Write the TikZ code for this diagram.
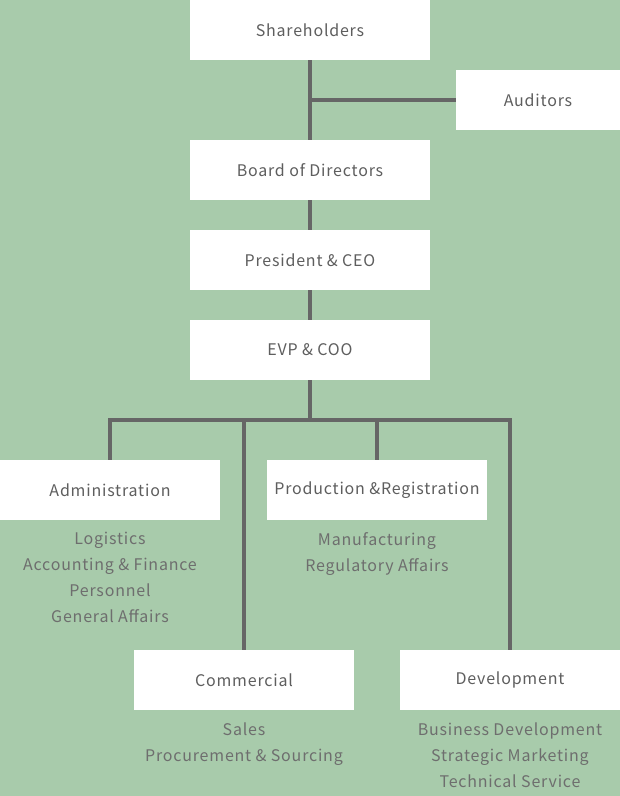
\documentclass[tikz,border=0pt]{standalone}
\usepackage{fontspec}
\setmainfont{Noto Sans CJK JP}[LetterSpace=5]
\usepackage{tikz}
\usetikzlibrary{positioning,calc}
\definecolor{orgbg}{HTML}{A8CBAB}
\definecolor{linegray}{HTML}{666666}
\definecolor{txtgray}{HTML}{5E5E5E}
\definecolor{subgray}{HTML}{6E6E6E}

\begin{document}
\begin{tikzpicture}[
  x=1pt,y=-1pt,
  unit/.style={fill=white,minimum height=60pt,minimum width=240pt,inner sep=0pt,
               font=\fontsize{16}{19}\selectfont,text=txtgray},
  dept/.style={unit,minimum width=220pt},
  aud/.style={unit,minimum width=164pt},
  subs/.style={align=center,font=\fontsize{16}{26}\selectfont,text=subgray,anchor=north},
  link/.style={draw=linegray,line width=4pt,line join=miter},
]
  % background
  \fill[orgbg] (0,0) rectangle (620,796);
  \useasboundingbox (0,0) rectangle (620,796);

  % top of the chart
  \node[unit] (share) at (310,30) {Shareholders};
  \node[aud] (audit) at (538,100) {Auditors};
  \node[unit] (board) at (310,170) {Board of Directors};
  \node[unit] (ceo) at (310,260) {President \& CEO};
  \node[unit] (coo) at (310,350) {EVP \& COO};

  % divisions
  \node[dept] (admin) at (110,490) {Administration};
  \node[dept] (prod) at (377,490) {Production \&Registration};
  \node[dept] (comm) at (244,680) {Commercial};
  \node[dept] (dev) at (510,680) {Development};

  % junctions
  \coordinate (audj) at (310,100);
  \coordinate (bus) at (310,420);

  \draw[link] (share.south) -- (board.north);
  \draw[link] (audj) -- (audit.west);
  \draw[link] (board.south) -- (ceo.north);
  \draw[link] (ceo.south) -- (coo.north);
  \draw[link] (coo.south) -- (bus);
  \draw[link] (admin.north) |- (dev.north |- bus) -- (dev.north);
  \draw[link] (comm.north |- bus) -- (comm.north);
  \draw[link] (prod.north |- bus) -- (prod.north);

  % sections under each division
  \node[subs] (adminsub) at (110,529) {Logistics\\Accounting \& Finance\\Personnel\\General Affairs};
  \node[subs] (prodsub) at (377,529) {Manufacturing\\Regulatory Affairs};
  \node[subs] (commsub) at (244,719) {Sales\\Procurement \& Sourcing};
  \node[subs] (devsub) at (510,719) {Business Development\\Strategic Marketing\\Technical Service};
\end{tikzpicture}
\end{document}
